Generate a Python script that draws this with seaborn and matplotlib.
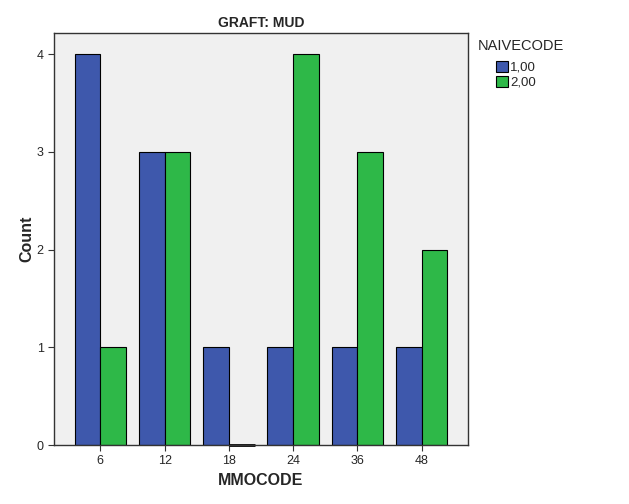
import matplotlib
matplotlib.use("Agg")
import matplotlib.pyplot as plt
import seaborn as sns
import pandas as pd

# values
mmocode = ["6", "12", "18", "24", "36", "48"]
naive_1 = [4, 3, 1, 1, 1, 1]
naive_2 = [1, 3, 0, 4, 3, 2]
groups = ["1,00", "2,00"]
colors = ["#3E58AC", "#2EB848"]

df = pd.DataFrame({
    "MMOCODE": mmocode * 2,
    "Count": naive_1 + naive_2,
    "NAIVECODE": [groups[0]] * len(mmocode) + [groups[1]] * len(mmocode),
})

sns.set_style("ticks")
plt.rcParams["font.family"] = ["Liberation Sans", "DejaVu Sans"]

fig = plt.figure(figsize=(6.29, 5.04), dpi=100)
ax = fig.add_axes([0.086, 0.117, 0.658, 0.818])
ax.set_facecolor("#F0F0F0")

sns.barplot(data=df, x="MMOCODE", y="Count", hue="NAIVECODE", order=mmocode,
            hue_order=groups, palette=colors, edgecolor="black", linewidth=0.8,
            saturation=1, width=0.8, ax=ax)

handles, labels = ax.get_legend_handles_labels()
ax.get_legend().remove()

# zero-height bars show up as a dark line in the original
for p in ax.patches:
    if p.get_height() == 0:
        p.set_linewidth(2)
        p.set_clip_on(False)

ax.set_xlim(-0.72, 5.72)
ax.set_ylim(0, 4.22)
ax.set_yticks([0, 1, 2, 3, 4])
ax.tick_params(axis="both", labelsize=9, length=4, width=0.8, color="#333333")
for s in ax.spines.values():
    s.set_color("#333333")
    s.set_linewidth(1)

ax.set_title("GRAFT: MUD", fontsize=10, fontweight="bold", pad=4)
ax.set_xlabel("MMOCODE", fontsize=11.5, fontweight="bold", labelpad=4)
ax.set_ylabel("Count", fontsize=11.5, fontweight="bold", labelpad=2)

fig.text(0.76, 0.895, "NAIVECODE", fontsize=10.5, ha="left", va="bottom")
leg = fig.legend(handles, labels, loc="upper left",
                 bbox_to_anchor=(0.784, 0.885), frameon=False, fontsize=9.5,
                 handlelength=0.9, handleheight=0.9, borderaxespad=0,
                 borderpad=0.2, handletextpad=0.2, labelspacing=0.15)
for h in leg.legend_handles:
    h.set_edgecolor("black")
    h.set_linewidth(0.8)

fig.savefig("out.png", dpi=100)
